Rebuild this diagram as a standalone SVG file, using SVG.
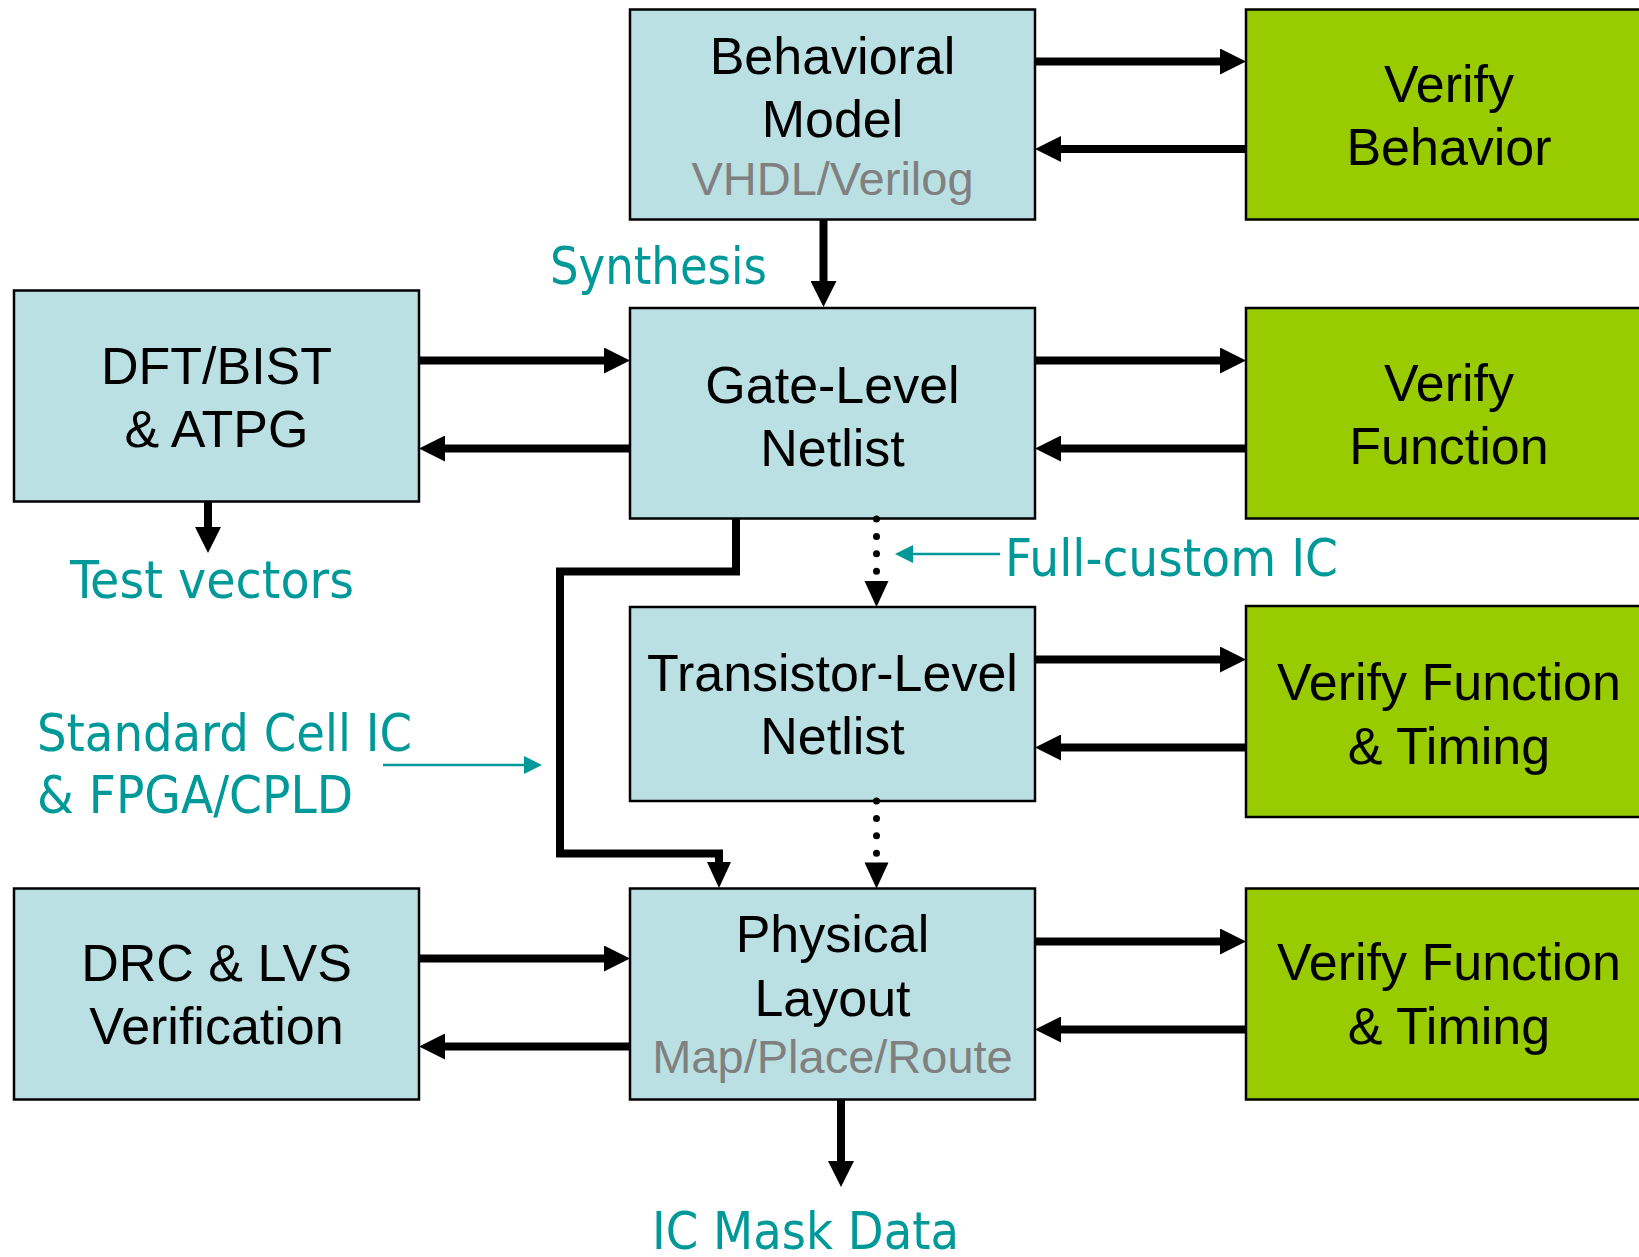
<svg xmlns="http://www.w3.org/2000/svg" width="1639" height="1257" viewBox="0 0 1639 1257">
<style>
.blue{fill:#BBE0E3;stroke:#000;stroke-width:2.5}
.green{fill:#99CC00;stroke:#000;stroke-width:2.5}
.t{font-family:'Liberation Sans',Arial,sans-serif;font-size:52px;fill:#000;text-anchor:middle}
.g{font-family:'Liberation Sans',Arial,sans-serif;font-size:47px;fill:#808080;text-anchor:middle}
.teal{font-family:'DejaVu Sans Condensed','DejaVu Sans',sans-serif;font-size:51px;fill:#009999}
.thick{stroke:#000;stroke-width:8;fill:none}
.dot{stroke:#000;stroke-width:7;fill:none;stroke-linecap:round;stroke-dasharray:0 17.4}
.thin{stroke:#009999;stroke-width:2.5;fill:none}
</style>
<defs>
<marker id="ah" viewBox="0 0 26 26" refX="0" refY="13" markerWidth="26" markerHeight="26" markerUnits="userSpaceOnUse" orient="auto">
<path d="M0,0 L26,13 L0,26 z" fill="#000"/>
</marker>
<marker id="ah2" viewBox="0 0 26 24" refX="0" refY="12" markerWidth="26" markerHeight="24" markerUnits="userSpaceOnUse" orient="auto">
<path d="M0,0 L26,12 L0,24 z" fill="#000"/>
</marker>
<marker id="ta" viewBox="0 0 18 18" refX="0" refY="9" markerWidth="18" markerHeight="18" markerUnits="userSpaceOnUse" orient="auto">
<path d="M0,0 L18,9 L0,18 z" fill="#009999"/>
</marker>
</defs>

<g id="behavioral">
<rect class="blue" x="630" y="9.5" width="405" height="210"/>
<text class="t" x="832.5" y="74">Behavioral</text>
<text class="t" x="832.5" y="137">Model</text>
<text class="g" x="832.5" y="195">VHDL/Verilog</text>
</g>
<g id="verify-behavior">
<rect class="green" x="1246" y="9.5" width="410" height="210"/>
<text class="t" x="1449" y="102">Verify</text>
<text class="t" x="1449" y="165">Behavior</text>
</g>
<g id="dft">
<rect class="blue" x="14" y="290.5" width="405" height="211"/>
<text class="t" x="216.5" y="384">DFT/BIST</text>
<text class="t" x="216.5" y="447">&amp; ATPG</text>
</g>
<g id="gate-level">
<rect class="blue" x="630" y="308" width="405" height="210.5"/>
<text class="t" x="832.5" y="403">Gate-Level</text>
<text class="t" x="832.5" y="466">Netlist</text>
</g>
<g id="verify-function">
<rect class="green" x="1246" y="308" width="410" height="210.5"/>
<text class="t" x="1449" y="401">Verify</text>
<text class="t" x="1449" y="464">Function</text>
</g>
<g id="transistor-level">
<rect class="blue" x="630" y="607" width="405" height="194"/>
<text class="t" x="832.5" y="691">Transistor-Level</text>
<text class="t" x="832.5" y="754">Netlist</text>
</g>
<g id="verify-ft1">
<rect class="green" x="1246" y="606" width="410" height="211"/>
<text class="t" x="1449" y="700">Verify Function</text>
<text class="t" x="1449" y="764">&amp; Timing</text>
</g>
<g id="drc">
<rect class="blue" x="14" y="888.5" width="405" height="211"/>
<text class="t" x="216.5" y="981">DRC &amp; LVS</text>
<text class="t" x="216.5" y="1044">Verification</text>
</g>
<g id="physical">
<rect class="blue" x="630" y="888.5" width="405" height="211"/>
<text class="t" x="832.5" y="952">Physical</text>
<text class="t" x="832.5" y="1016">Layout</text>
<text class="g" x="832.5" y="1073">Map/Place/Route</text>
</g>
<g id="verify-ft2">
<rect class="green" x="1246" y="888.5" width="410" height="211"/>
<text class="t" x="1449" y="980">Verify Function</text>
<text class="t" x="1449" y="1044">&amp; Timing</text>
</g>

<g id="labels">
<text class="teal" x="550" y="284" textLength="217" lengthAdjust="spacingAndGlyphs">Synthesis</text>
<text class="teal" x="70" y="598" textLength="284" lengthAdjust="spacingAndGlyphs">Test vectors</text>
<text class="teal" x="1005" y="576" textLength="333" lengthAdjust="spacingAndGlyphs">Full-custom IC</text>
<text class="teal" x="37" y="751" textLength="375" lengthAdjust="spacingAndGlyphs">Standard Cell IC</text>
<text class="teal" x="37" y="813" textLength="316" lengthAdjust="spacingAndGlyphs">&amp; FPGA/CPLD</text>
<text class="teal" x="652" y="1249" textLength="307" lengthAdjust="spacingAndGlyphs">IC Mask Data</text>
</g>

<g id="connectors">
<line class="thick" x1="1035" y1="61.5" x2="1220" y2="61.5" marker-end="url(#ah)"/>
<line class="thick" x1="1246" y1="149" x2="1061" y2="149" marker-end="url(#ah)"/>
<line class="thick" x1="823.5" y1="219.5" x2="823.5" y2="281" marker-end="url(#ah)"/>
<line class="thick" x1="419" y1="360.5" x2="604" y2="360.5" marker-end="url(#ah)"/>
<line class="thick" x1="630" y1="448.5" x2="445" y2="448.5" marker-end="url(#ah)"/>
<line class="thick" x1="1035" y1="360.5" x2="1220" y2="360.5" marker-end="url(#ah)"/>
<line class="thick" x1="1246" y1="448.5" x2="1061" y2="448.5" marker-end="url(#ah)"/>
<line class="thick" x1="208" y1="501.5" x2="208" y2="527" marker-end="url(#ah)"/>
<line class="thick" x1="1035" y1="659.5" x2="1220" y2="659.5" marker-end="url(#ah)"/>
<line class="thick" x1="1246" y1="747.5" x2="1061" y2="747.5" marker-end="url(#ah)"/>
<line class="thick" x1="1035" y1="941.5" x2="1220" y2="941.5" marker-end="url(#ah)"/>
<line class="thick" x1="1246" y1="1029.5" x2="1061" y2="1029.5" marker-end="url(#ah)"/>
<line class="thick" x1="419" y1="958.5" x2="604" y2="958.5" marker-end="url(#ah)"/>
<line class="thick" x1="630" y1="1046.5" x2="445" y2="1046.5" marker-end="url(#ah)"/>
<line class="thick" x1="841" y1="1099.5" x2="841" y2="1161" marker-end="url(#ah)"/>
<polyline class="thick" points="736,518.5 736,571.5 560,571.5 560,853.5 719,853.5 719,862" marker-end="url(#ah2)"/>
<line class="dot" x1="876.5" y1="519" x2="876.5" y2="575"/>
<path d="M864.5,581 L888.5,581 L876.5,607 z" fill="#000"/>
<line class="dot" x1="876.5" y1="801" x2="876.5" y2="856"/>
<path d="M864.5,862.5 L888.5,862.5 L876.5,888.5 z" fill="#000"/>
<line class="thin" x1="1000" y1="554" x2="913" y2="554" marker-end="url(#ta)"/>
<line class="thin" x1="383" y1="765" x2="524" y2="765" marker-end="url(#ta)"/>
</g>
</svg>
